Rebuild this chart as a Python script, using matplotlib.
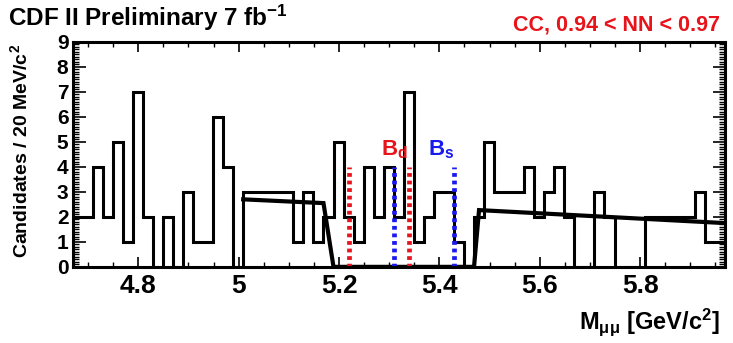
import numpy as np
import matplotlib
matplotlib.use("Agg")
import matplotlib.pyplot as plt
from matplotlib.ticker import MultipleLocator

plt.rcParams['font.family'] = ['Liberation Sans', 'DejaVu Sans']
plt.rcParams['font.weight'] = 'bold'
plt.rcParams['mathtext.fontset'] = 'custom'
plt.rcParams['mathtext.rm'] = 'Liberation Sans:bold'
plt.rcParams['mathtext.bf'] = 'Liberation Sans:bold'
plt.rcParams['mathtext.it'] = 'Liberation Sans:bold'
plt.rcParams['mathtext.default'] = 'bf'

# dane: 65 binow po 20 MeV od 4.669 do 5.969 GeV
m_lo, m_hi = 4.669, 5.969
counts = [2, 2, 4, 2, 5, 1, 7, 2, 0, 2, 0, 3, 1, 1, 6, 4, 0,
          3, 3, 3, 3, 3, 1, 3, 1, 2, 5, 2, 1, 4, 2, 4, 2, 7, 1,
          2, 3, 3, 1, 0, 2, 5, 3, 3, 3, 4, 2, 3, 4, 2, 0, 0, 3,
          2, 0, 0, 0, 2, 2, 2, 2, 2, 3, 1, 1]

# dopasowanie tla (poza oknem sygnalu)
fit_x = [5.009, 5.169, 5.189, 5.469, 5.479, 5.969]
fit_y = [2.70, 2.55, 0.0, 0.0, 2.27, 1.75]

# okna sygnalu
bd_window = [5.219, 5.339]
bs_window = [5.310, 5.430]
window_height = 4

edges = np.linspace(m_lo, m_hi, len(counts) + 1)

fig = plt.figure(figsize=(7.33, 3.43), dpi=100)
ax = fig.add_axes([0.099, 0.222, 0.890, 0.656])

# histogram
ax.stairs(counts, edges, color='black', linewidth=2.2, baseline=0)

# czerwona linia zerowa
ax.plot([m_lo, m_hi], [0, 0], color='red', linewidth=0.8, zorder=1)

# dopasowanie
ax.plot(fit_x, fit_y, color='black', linewidth=3.0, solid_joinstyle='miter')

# linie okien
for xv in bd_window:
    ax.plot([xv, xv], [0, window_height], color='#e8141c', linewidth=3.4,
            linestyle=(0, (0.8, 0.8)))
for xv in bs_window:
    ax.plot([xv, xv], [0, window_height], color='#1a1aee', linewidth=3.4,
            linestyle=(0, (0.8, 0.8)))

ax.text(5.283, 4.47, 'B$_{d}$', color='#e8141c', fontsize=16, ha='left', va='baseline')
ax.text(5.377, 4.47, 'B$_{s}$', color='#1a1aee', fontsize=16, ha='left', va='baseline')

ax.set_xlim(m_lo, m_hi)
ax.set_ylim(0, 9)

ax.xaxis.set_major_locator(MultipleLocator(0.2))
ax.xaxis.set_minor_locator(MultipleLocator(0.05))
ax.yaxis.set_major_locator(MultipleLocator(1))
ax.yaxis.set_minor_locator(MultipleLocator(0.1))
ax.set_xticks([4.8, 5.0, 5.2, 5.4, 5.6, 5.8])
ax.set_xticklabels(['4.8', '5', '5.2', '5.4', '5.6', '5.8'])

ax.tick_params(axis='both', which='both', direction='in', top=True, right=True)
ax.tick_params(axis='x', which='major', length=7, width=1.2, labelsize=19, pad=5)
ax.tick_params(axis='x', which='minor', length=3.5, width=1.0)
ax.tick_params(axis='y', which='major', length=9, width=1.2, labelsize=15, pad=3)
ax.tick_params(axis='y', which='minor', length=4.5, width=1.0)
for sp in ax.spines.values():
    sp.set_linewidth(2.2)

fig.text(0.011, 0.925, 'CDF II Preliminary 7 fb$^{-1}$', fontsize=17.5,
         ha='left', va='baseline', color='black')
fig.text(0.982, 0.912, 'CC, 0.94 < NN < 0.97', fontsize=15.5,
         ha='right', va='baseline', color='#e8141c')
fig.text(0.982, 0.04, 'M$_{μμ}$ [GeV/c$^{2}$]', fontsize=17,
         ha='right', va='baseline')
fig.text(0.028, 0.56, 'Candidates / 20 MeV/c$^{2}$', fontsize=14,
         rotation=90, ha='center', va='center')

fig.savefig('out.png', dpi=100)
